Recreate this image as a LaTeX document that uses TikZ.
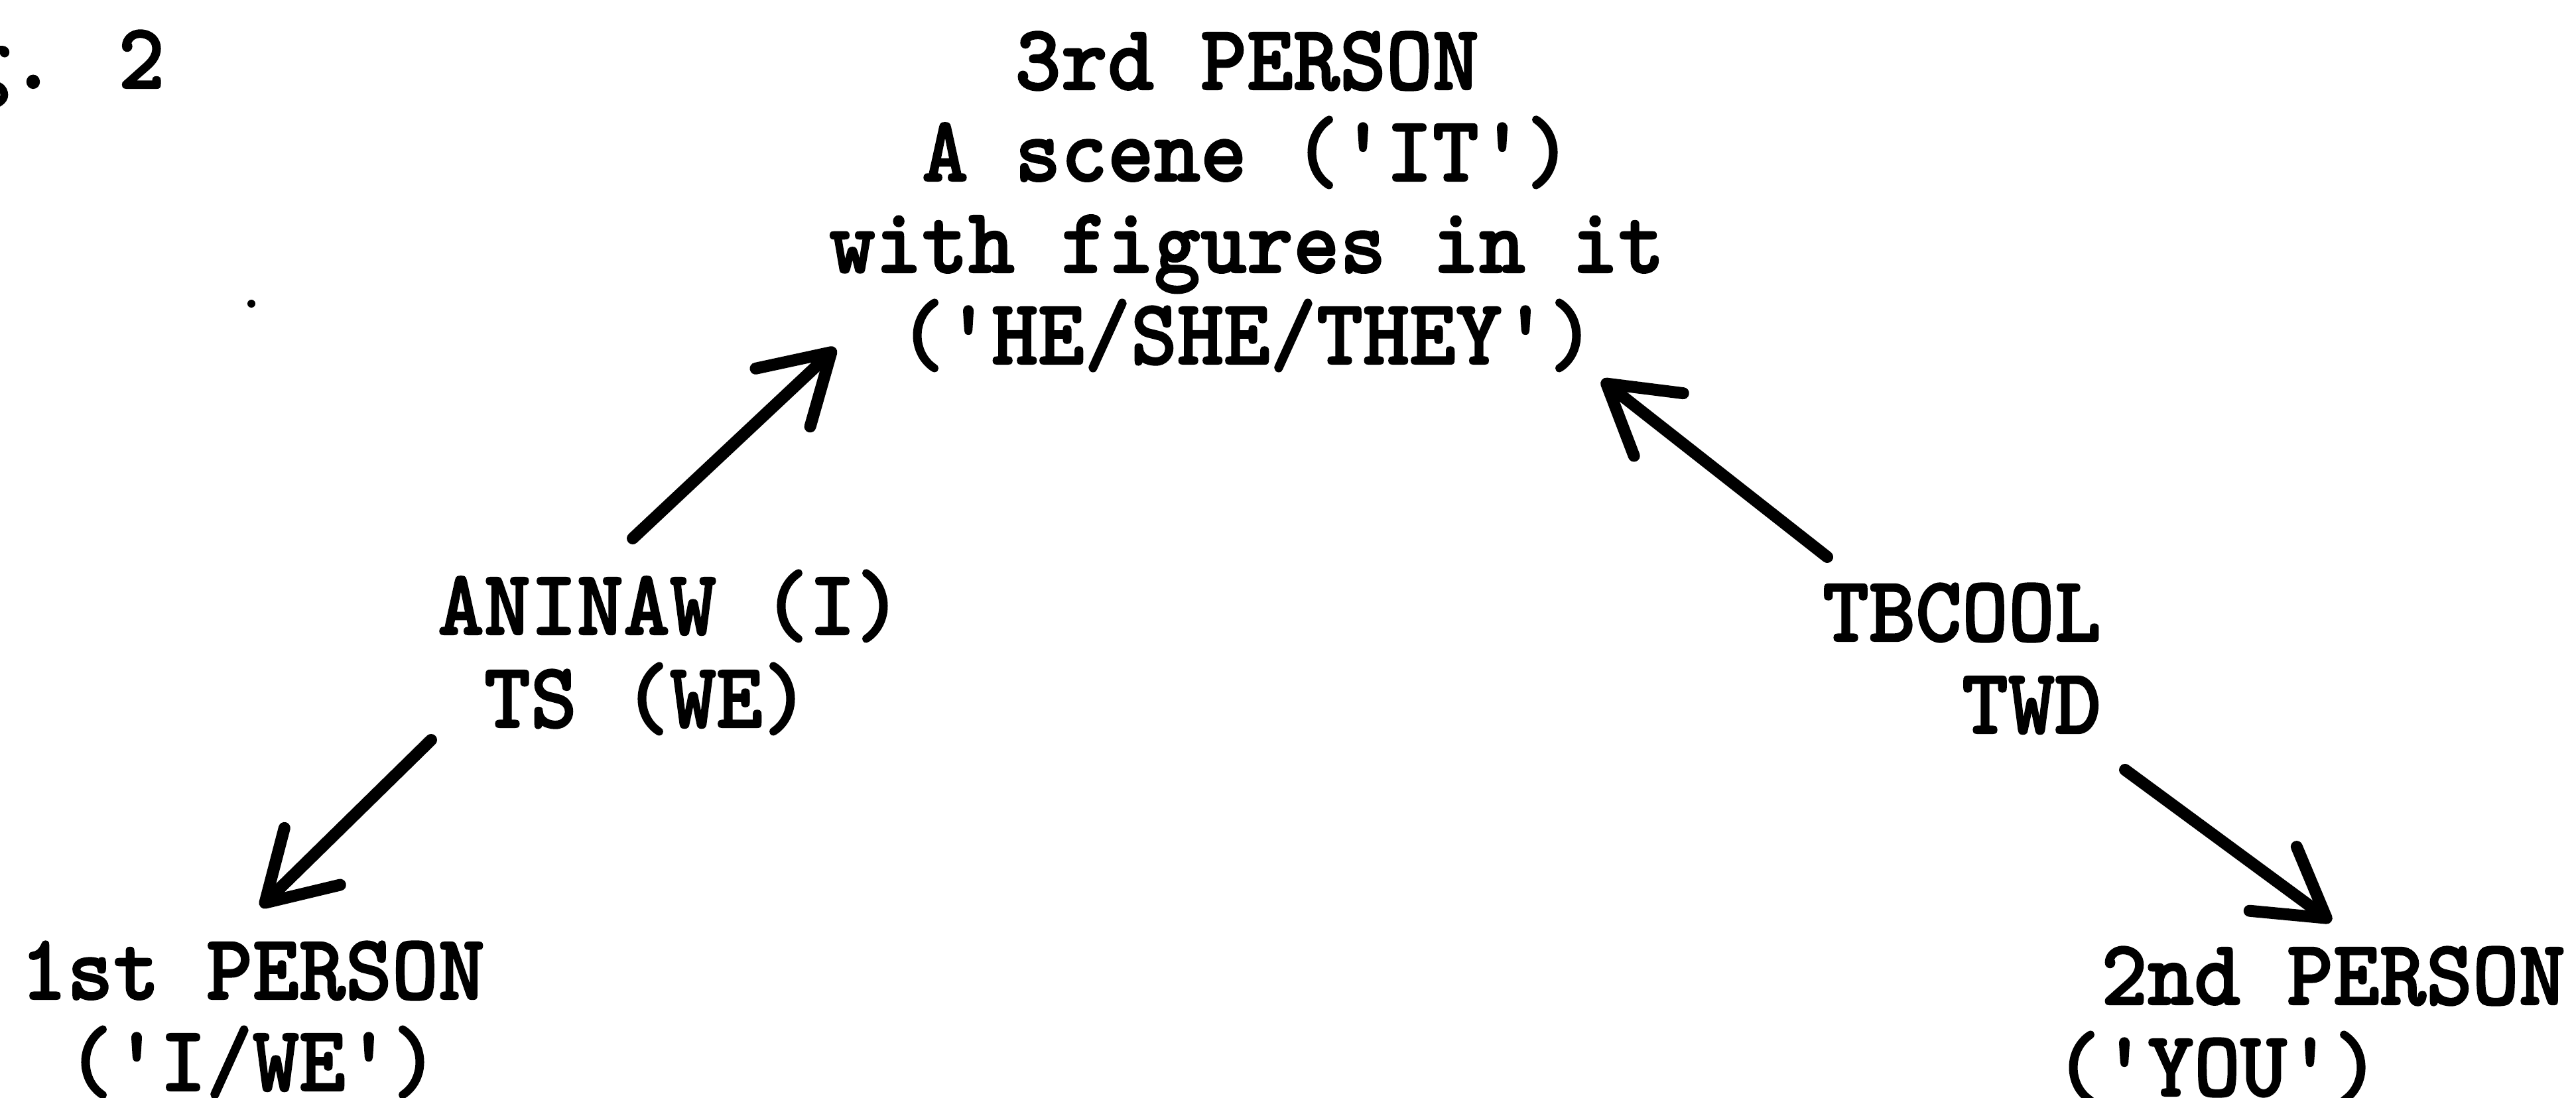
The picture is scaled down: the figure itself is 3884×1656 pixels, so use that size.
\documentclass[tikz,border=0pt]{standalone}
\usepackage{fontspec}
\usepackage{graphicx}
\usetikzlibrary{arrows.meta}

% slab-serif typewriter face, heavy ink, straight quotes kept as typed
\newfontfamily\typewriter{lmmonolt10-bold.otf}[Ligatures=TeXOff, FakeBold=1.6]

% measure the face so that capitals and pitch can be set exactly
\newlength\twcap
\newlength\twadv
\AtBeginDocument{%
  \settoheight\twcap{\typewriter\fontsize{10pt}{12pt}\selectfont H}%
  \settowidth\twadv{\typewriter\fontsize{10pt}{12pt}\selectfont H}%
  \ifdim\twcap<1pt \global\twcap=6.6pt\fi
  \ifdim\twadv<1pt \global\twadv=6pt\fi
  % cap height 8.6pt, character pitch 7pt
  \pgfmathsetmacro\twsize{10*8.6/\twcap}%
  \pgfmathsetmacro\twxs{7.0/(\twadv*\twsize/10)}%
  \global\let\twsize\twsize
  \global\let\twxs\twxs}
\newcommand\twfontsel{\typewriter\fontsize{\twsize pt}{\twsize pt}\selectfont}
\newcommand\tw[1]{\scalebox{\twxs}[1]{#1}}

\begin{document}
\begin{tikzpicture}[x=0.1pt,y=-0.1pt,
  typed/.style={font=\twfontsel, inner sep=0pt, outer sep=0pt, text=black},
  arr/.style={line width=1.8pt, line cap=round,
    -{Straight Barb[length=10pt,width=12pt,round]}}]

  \fill[white] (0,0) rectangle (3884,1656);
  \useasboundingbox (0,0) rectangle (3884,1656);

  % caption
  \node[typed, anchor=base west] (fig) at (-195,133) {\tw{Fig. 2}};

  % third person
  \node[typed, anchor=base] (t1) at (1880,135) {\tw{3rd PERSON}};
  \node[typed, anchor=base] (t2) at (1880,273) {\tw{A scene ('IT')}};
  \node[typed, anchor=base] (t3) at (1880,411) {\tw{with figures in it}};
  \node[typed, anchor=base] (t4) at (1880,549) {\tw{('HE/SHE/THEY')}};

  % left middle
  \node[typed, anchor=base west] (a1) at (660,957) {\tw{ANINAW (I)}};
  \node[typed, anchor=base west] (a2) at (730,1097) {\tw{TS (WE)}};

  % right middle
  \node[typed, anchor=base west] (b1) at (2748,967) {\tw{TBCOOL}};
  \node[typed, anchor=base west] (b2) at (2958,1106) {\tw{TWD}};

  % first person
  \node[typed, anchor=base] (f1) at (381,1507) {\tw{1st PERSON}};
  \node[typed, anchor=base] (f2) at (381,1645) {\tw{('I/WE')}};

  % second person
  \node[typed, anchor=base west] (s1) at (3168,1515) {\tw{2nd PERSON}};
  \node[typed, anchor=base west] (s2) at (3098,1653) {\tw{('YOU')}};

  % arrows
  \draw[arr] ([shift={(294,-145)}]a1.base west) -- ([shift={(-620,-24)}]t4.base);
  \draw[arr] ([shift={(7,-127)}]b1.base west) -- ([shift={(535,24)}]t4.base);
  \draw[arr] ([shift={(-80,19)}]a2.base west) -- ([shift={(12,-139)}]f1.base);
  \draw[arr] ([shift={(246,55)}]b2.base west) -- ([shift={(347,-125)}]s1.base west);

  % speck
  \fill (379,458) circle[radius=6];
\end{tikzpicture}
\end{document}
